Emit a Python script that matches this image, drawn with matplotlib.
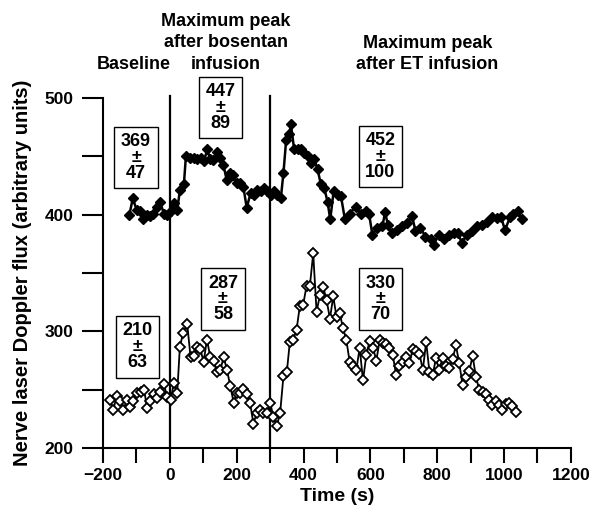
import matplotlib
matplotlib.use("Agg")
import matplotlib.pyplot as plt
from matplotlib.ticker import MultipleLocator

# ET infusion group (filled diamonds)
top_t = [-121, -111, -99, -89, -79, -69, -59, -49, -39, -29, -18, -8, 2, 12, 22, 30, 42, 48,
         60, 72, 82, 92, 102, 112, 120, 130, 142, 150, 160, 170, 180, 190, 200, 210, 220, 230,
         242, 252, 262, 272, 282, 292, 302, 312, 322, 332, 340, 348, 358, 362, 372, 382, 392,
         402, 412, 422, 432, 442, 452, 462, 472, 480, 490, 502, 512, 524, 538, 556, 571, 586,
         596, 606, 621, 636, 644, 653, 665, 680, 695, 710, 725, 735, 750, 765, 780, 790, 804,
         819, 834, 849, 862, 874, 889, 904, 919, 934, 948, 963, 978, 991, 1003, 1018, 1028,
         1041, 1053]
top_flux = [400, 414, 404, 403, 396, 400, 399, 401, 407, 411, 401, 400, 403, 410, 404, 421, 426, 450,
            449, 449, 448, 449, 446, 456, 448, 447, 454, 449, 443, 430, 436, 434, 427, 427, 424, 406,
            419, 417, 421, 420, 423, 420, 417, 420, 417, 414, 436, 464, 469, 478, 456, 456, 456,
            453, 450, 444, 448, 439, 426, 423, 411, 396, 420, 417, 416, 396, 401, 407, 401, 403,
            401, 383, 389, 390, 402, 391, 384, 387, 390, 393, 399, 386, 389, 381, 379, 374, 383,
            379, 383, 384, 384, 376, 383, 386, 390, 391, 394, 398, 397, 398, 387, 398, 401,
            403, 396]

# bosentan group (open diamonds)
bot_t = [-179, -169, -159, -149, -139, -129, -119, -109, -97, -87, -77, -68, -58, -48, -38, -28,
         -18, -8, 2, 12, 22, 30, 40, 52, 62, 72, 81, 91, 101, 111, 121, 131, 141, 151, 161, 171,
         181, 191, 201, 210, 220, 230, 240, 250, 260, 270, 280, 290, 300, 310, 320, 330, 340,
         350, 359, 369, 379, 389, 399, 409, 419, 429, 439, 449, 459, 469, 479, 489, 499, 508,
         518, 528, 538, 548, 558, 568, 578, 588, 598, 608, 618, 628, 638, 648, 657, 667, 677,
         687, 697, 707, 717, 727, 737, 747, 757, 767, 777, 787, 796, 806, 816, 826, 836, 846,
         856, 866, 876, 886, 896, 906, 916, 926, 936, 945, 955, 965, 975, 985, 995, 1005, 1015,
         1025, 1035]
bot_flux = [241, 233, 245, 240, 233, 241, 235, 240, 247, 248, 250, 234, 240, 246, 243, 248,
            255, 244, 241, 256, 247, 287, 299, 306, 278, 279, 287, 285, 274, 293, 278, 275, 265,
            267, 278, 267, 253, 239, 247, 247, 251, 246, 239, 221, 230, 233, 230, 230, 239, 227,
            219, 230, 262, 265, 291, 293, 301, 322, 323, 339, 339, 367, 317, 331, 338, 327, 311,
            330, 312, 316, 303, 293, 274, 270, 267, 286, 258, 280, 292, 286, 275, 293, 290, 289,
            286, 280, 263, 270, 274, 278, 273, 285, 283, 281, 267, 291, 265, 263, 277, 267, 277,
            270, 269, 276, 288, 273, 254, 261, 266, 279, 261, 250, 248, 246, 241, 237, 240, 237,
            233, 238, 239, 236, 231]

# mean +/- sd boxes: (text, x, y)
box_labels = ["369\n±\n47", "447\n±\n89", "452\n±\n100", "210\n±\n63", "287\n±\n58", "330\n±\n70"]
box_x = [-101, 152, 630, -97, 159, 630]
box_y = [449, 492, 450, 287, 328, 328]

# phase headers above the plot, one text per line
header_lines = ["Baseline", "Maximum peak", "after bosentan", "infusion",
                "Maximum peak", "after ET infusion"]
header_x = [-107, 167, 167, 166, 772, 769]
header_y = [528.5, 565.5, 547.5, 528.5, 546.5, 528.5]

event_times = [0, 300]

plt.rcParams['font.family'] = ['Liberation Sans', 'DejaVu Sans']
plt.rcParams['font.weight'] = 'bold'

fig = plt.figure(figsize=(6.06, 5.11), dpi=100)
ax = fig.add_axes([0.170, 0.123, 0.772, 0.685])

for t in event_times:
    ax.plot([t, t], [200, 502], color='black', lw=1.6, clip_on=False, zorder=1)

ax.plot(top_t, top_flux, color='black', lw=1.8, marker='D', markersize=5.5,
        markerfacecolor='black', markeredgecolor='black', zorder=3)
ax.plot(bot_t, bot_flux, color='black', lw=1.3, marker='D', markersize=5,
        markerfacecolor='white', markeredgecolor='black', markeredgewidth=1.3, zorder=3)

for lab, bx, by in zip(box_labels, box_x, box_y):
    ax.text(bx, by, lab, ha='center', va='center', fontsize=13, fontweight='bold',
            linespacing=0.9, zorder=4,
            bbox=dict(boxstyle='square,pad=0.37', facecolor='white', edgecolor='black', lw=1))

for lab, hx, hy in zip(header_lines, header_x, header_y):
    ax.text(hx, hy, lab, ha='center', va='center', fontsize=13, fontweight='bold',
            clip_on=False)

ax.set_xlim(-200, 1200)
ax.set_ylim(200, 500)
ax.xaxis.set_major_locator(MultipleLocator(200))
ax.xaxis.set_minor_locator(MultipleLocator(100))
ax.yaxis.set_major_locator(MultipleLocator(100))
ax.yaxis.set_minor_locator(MultipleLocator(50))
ax.tick_params(which='both', direction='out', width=1.5, labelsize=12.5)
ax.tick_params(axis='x', which='both', length=11, pad=3)
ax.tick_params(axis='y', which='both', length=15, pad=6)
for lbl in ax.get_xticklabels() + ax.get_yticklabels():
    lbl.set_fontweight('bold')

for s in ['top', 'right']:
    ax.spines[s].set_visible(False)
for s in ['left', 'bottom']:
    ax.spines[s].set_linewidth(1.5)

ax.set_xlabel("Time (s)", fontsize=14, fontweight='bold')
ax.set_ylabel("Nerve laser Doppler flux (arbitrary units)", fontsize=14.5, fontweight='bold')
ax.xaxis.set_label_coords(0.5, -0.115)
ax.yaxis.set_label_coords(-0.152, 0.5)

fig.savefig("out.png", dpi=100)
